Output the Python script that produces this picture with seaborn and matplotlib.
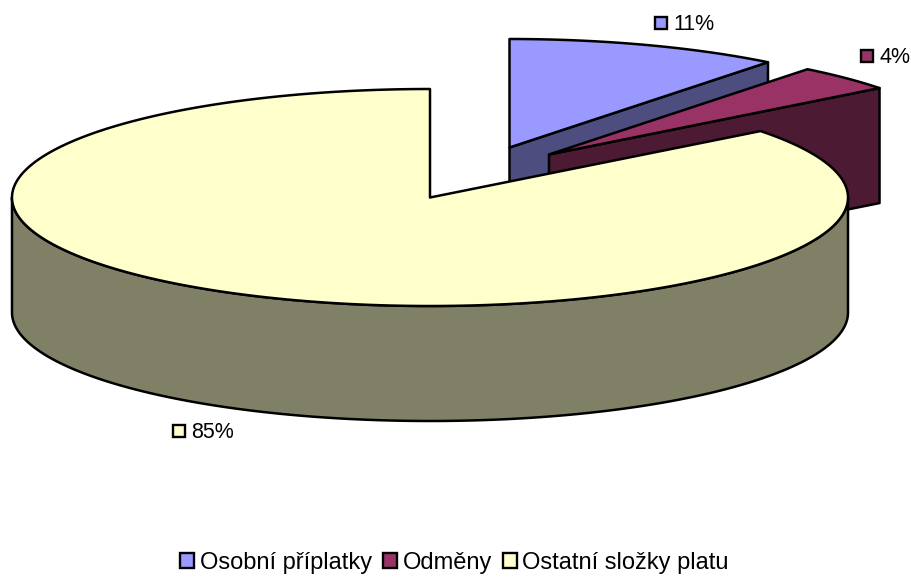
import matplotlib
matplotlib.use('Agg')
import matplotlib.pyplot as plt
from matplotlib.patches import Patch
import numpy as np
import seaborn as sns

# values (the labels round them)
labels = ['Osobní příplatky', 'Odměny', 'Ostatní složky platu']
values = [10.6, 3.9, 85.4]
colors = ['#9999FF', '#993366', '#FFFFCC']

sns.set_theme(style='white')
plt.rcParams['font.family'] = ['Liberation Sans', 'DejaVu Sans']

# layout, in pixels of the 912x577 picture
RX, RY, DEPTH = 418, 108.5, 115
centers = [(509.5, 147.5), (549, 154.5), (430, 197.5)]
label_pos = [(661, 23), (867, 56), (179, 431)]

palette = sns.color_palette(colors)
dark = [tuple(c * 0.5 for c in col) for col in palette]

fig = plt.figure(figsize=(9.12, 5.77), dpi=100)
ax = fig.add_axes([0, 0, 1, 1])
ax.set_xlim(0, 912)
ax.set_ylim(577, 0)
ax.axis('off')


def ellipse_pts(cx, cy, a0, a1):
    '''
    Points on the top ellipse between two angles in degrees
    '''
    t = np.radians(np.linspace(a0, a1, max(int(abs(a1 - a0) * 2), 2)))
    return cx + RX * np.cos(t), cy - RY * np.sin(t)


def draw_slice(cx, cy, start, end, col, col_dark):
    '''
    Draws one slice going clockwise from start to end, back faces first
    '''
    style = dict(edgecolor='black', linewidth=1.8, joinstyle='round')
    # cut face, only seen when it is on the right side
    if np.cos(np.radians(end)) > 1e-6:
        ex, ey = ellipse_pts(cx, cy, end, end)
        ax.fill([cx, ex[0], ex[0], cx], [cy, ey[0], ey[0] + DEPTH, cy + DEPTH],
                facecolor=col_dark, **style)
    # outer wall, front half only
    if end <= -180:
        x, y = ellipse_pts(cx, cy, 0, -180)
        ax.fill(np.r_[x, x[::-1]], np.r_[y, y[::-1] + DEPTH], facecolor=col_dark, **style)
    # top
    x, y = ellipse_pts(cx, cy, start, end)
    ax.fill(np.r_[cx, x], np.r_[cy, y], facecolor=col, **style)


shares = np.array(values) / np.sum(values) * 360
angle = 90.0
for i, share in enumerate(shares):
    cx, cy = centers[i]
    draw_slice(cx, cy, angle, angle - share, palette[i], dark[i])
    angle -= share

# data labels
for i, (lx, ly) in enumerate(label_pos):
    ax.plot(lx, ly, marker='s', markersize=9, markerfacecolor=palette[i],
            markeredgecolor='black', markeredgewidth=1.7, linestyle='none')
    ax.text(lx + 12.5, ly + 1.5, f'{round(values[i])}%', fontsize=15.5, color='black',
            va='center', ha='left')

handles = [Patch(facecolor=palette[i], edgecolor='black', linewidth=1.7, label=labels[i])
           for i in range(len(labels))]
fig.legend(handles=handles, loc='center', bbox_to_anchor=(454.5 / 912, 1 - 563 / 577), ncol=3,
           frameon=False, fontsize=17, handlelength=0.58, handleheight=0.58,
           handletextpad=0.25, columnspacing=0.47, borderpad=0, labelcolor='black')

fig.savefig('out.png', dpi=100, facecolor='white')
